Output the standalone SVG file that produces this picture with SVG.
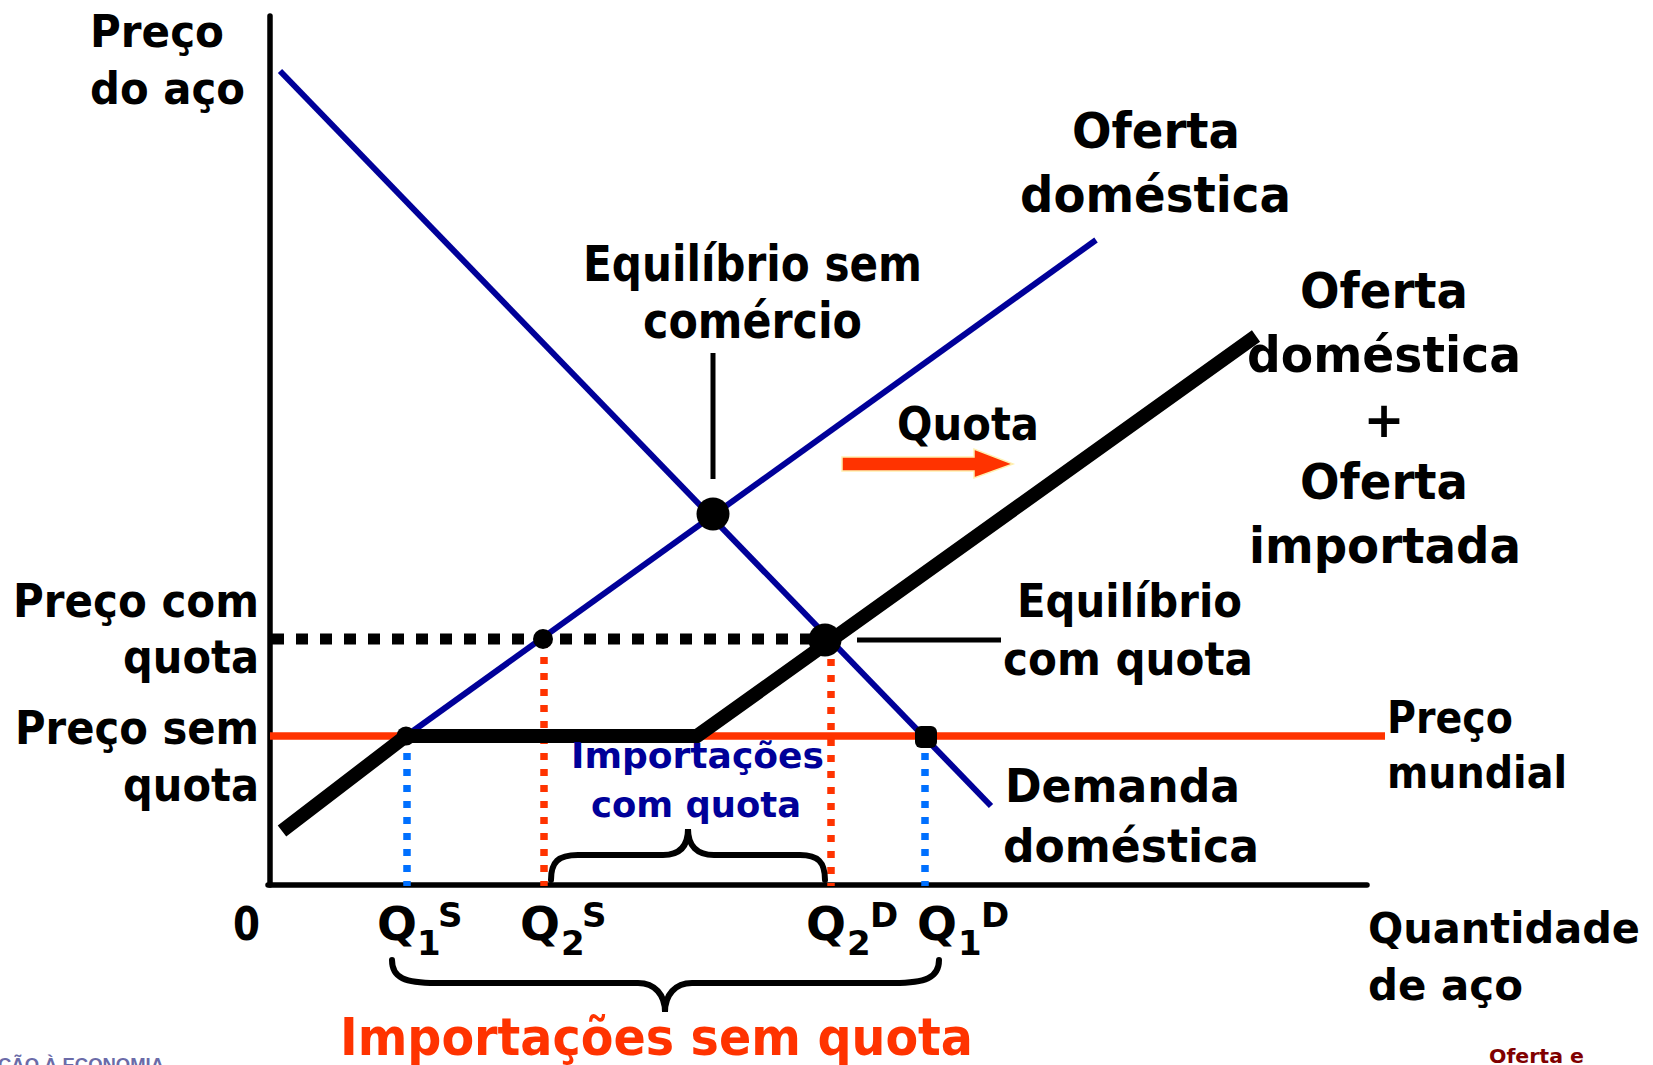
<svg xmlns="http://www.w3.org/2000/svg" width="1653" height="1065" viewBox="0 0 1653 1065">
<defs>
<style>
.t{font-family:"DejaVu Sans","Verdana",sans-serif;font-weight:bold;fill:#000}
.nv{fill:#000099}
.rd{fill:#FF3300}
.ax{stroke:#000;stroke-width:5.5;fill:none}
.blue{stroke:#000099;stroke-width:6;fill:none}
.dotb{stroke:#0070FF;stroke-width:7.5;stroke-dasharray:7 9;fill:none}
.dotr{stroke:#FF3300;stroke-width:7.5;stroke-dasharray:7 9;fill:none}
.brace{stroke:#000;stroke-width:6;fill:none;stroke-linecap:round}
.lead{stroke:#000;stroke-width:5;fill:none}
</style>
</defs>
<rect width="1653" height="1065" fill="#fff"/>

<g id="axes">
<line class="ax" x1="270" y1="16" x2="270" y2="885" stroke-linecap="round"/>
<line class="ax" x1="268" y1="885" x2="1367" y2="885" stroke-linecap="round"/>
</g>

<g id="world-price-line">
<line x1="270" y1="736" x2="1385" y2="736" stroke="#FF3300" stroke-width="7.5"/>
</g>

<g id="guides">
<line x1="272" y1="639" x2="815" y2="639" stroke="#000" stroke-width="11" stroke-dasharray="12 12"/>
<line class="dotb" x1="407" y1="737" x2="407" y2="886"/>
<line class="dotr" x1="544" y1="641" x2="544" y2="886"/>
<line class="dotr" x1="831" y1="643" x2="831" y2="886"/>
<line class="dotb" x1="925" y1="737" x2="925" y2="886"/>
</g>

<g id="demand-curve">
<line class="blue" x1="280" y1="71" x2="991" y2="806"/>
</g>
<g id="domestic-supply-curve">
<line class="blue" x1="406" y1="736" x2="1096" y2="240"/>
</g>
<g id="supply-with-quota">
<polyline points="282,831 406,736 697,736 1256,336" fill="none" stroke="#000" stroke-width="14" stroke-linejoin="miter"/>
</g>

<g id="points">
<circle cx="713" cy="514" r="16.5" fill="#000"/>
<circle cx="825" cy="640" r="16.5" fill="#000"/>
<circle cx="543" cy="639" r="10" fill="#000"/>
<circle cx="406" cy="736" r="9.5" fill="#000"/>
<rect x="915" y="726" width="22" height="22" rx="6" fill="#000"/>
</g>

<g id="connectors">
<line class="lead" x1="713" y1="353" x2="713" y2="479"/>
<line class="lead" x1="857" y1="640" x2="1001" y2="640" stroke-width="5.5"/>
<path class="brace" d="M551,880 C551,862 558,855 578,855 L663,855 C680,855 688,846 688,829 C688,846 697,855 714,855 L800,855 C818,855 825,862 825,880"/>
<path class="brace" d="M392,960 C392,978 405,983 436,983 L638,983 C655,983 665,995 665,1012 C665,995 675,983 692,983 L894,983 C925,983 939,978 939,960"/>
</g>

<g id="quota-arrow">
<polygon points="842,457 974,457 974,449 1013,464 974,478 974,471 842,471" fill="#FF3300" stroke="#FFF0B0" stroke-width="1.5"/>
<text class="t" x="897" y="440" font-size="47" textLength="142" lengthAdjust="spacingAndGlyphs">Quota</text>
</g>

<g id="label-y-axis">
<text class="t" x="90" y="47" font-size="44" textLength="134" lengthAdjust="spacingAndGlyphs">Preço</text>
<text class="t" x="90" y="104" font-size="44" textLength="155" lengthAdjust="spacingAndGlyphs">do aço</text>
</g>

<g id="label-oferta-domestica">
<text class="t" x="1072" y="148" font-size="49" textLength="168" lengthAdjust="spacingAndGlyphs">Oferta</text>
<text class="t" x="1020" y="212" font-size="49" textLength="271" lengthAdjust="spacingAndGlyphs">doméstica</text>
</g>

<g id="label-oferta-total">
<text class="t" x="1300" y="308" font-size="49" textLength="168" lengthAdjust="spacingAndGlyphs">Oferta</text>
<text class="t" x="1247" y="372" font-size="49" textLength="274" lengthAdjust="spacingAndGlyphs">doméstica</text>
<text class="t" x="1384" y="437" font-size="49" text-anchor="middle">+</text>
<text class="t" x="1300" y="499" font-size="49" textLength="168" lengthAdjust="spacingAndGlyphs">Oferta</text>
<text class="t" x="1249" y="563" font-size="49" textLength="272" lengthAdjust="spacingAndGlyphs">importada</text>
</g>

<g id="label-equilibrio-sem-comercio">
<text class="t" x="583" y="281" font-size="49" textLength="339" lengthAdjust="spacingAndGlyphs">Equilíbrio sem</text>
<text class="t" x="643" y="338" font-size="49" textLength="219" lengthAdjust="spacingAndGlyphs">comércio</text>
</g>

<g id="label-preco-com-quota">
<text class="t" x="13" y="617" font-size="46" textLength="246" lengthAdjust="spacingAndGlyphs">Preço com</text>
<text class="t" x="123" y="673" font-size="46" textLength="136" lengthAdjust="spacingAndGlyphs">quota</text>
</g>

<g id="label-preco-sem-quota">
<text class="t" x="15" y="744" font-size="46" textLength="244" lengthAdjust="spacingAndGlyphs">Preço sem</text>
<text class="t" x="123" y="801" font-size="46" textLength="136" lengthAdjust="spacingAndGlyphs">quota</text>
</g>

<g id="label-equilibrio-com-quota">
<text class="t" x="1017" y="617" font-size="46" textLength="225" lengthAdjust="spacingAndGlyphs">Equilíbrio</text>
<text class="t" x="1003" y="675" font-size="46" textLength="250" lengthAdjust="spacingAndGlyphs">com quota</text>
</g>

<g id="label-preco-mundial">
<text class="t" x="1387" y="733" font-size="45" textLength="126" lengthAdjust="spacingAndGlyphs">Preço</text>
<text class="t" x="1387" y="788" font-size="45" textLength="180" lengthAdjust="spacingAndGlyphs">mundial</text>
</g>

<g id="label-demanda">
<text class="t" x="1005" y="802" font-size="47" textLength="235" lengthAdjust="spacingAndGlyphs">Demanda</text>
<text class="t" x="1003" y="862" font-size="47" textLength="256" lengthAdjust="spacingAndGlyphs">doméstica</text>
</g>

<g id="label-importacoes-com-quota">
<text class="t nv" x="571" y="768" font-size="35" textLength="253" lengthAdjust="spacingAndGlyphs">Importações</text>
<text class="t nv" x="591" y="817" font-size="35" textLength="210" lengthAdjust="spacingAndGlyphs">com quota</text>
</g>

<g id="label-x-axis">
<text class="t" x="1368" y="943" font-size="43" textLength="272" lengthAdjust="spacingAndGlyphs">Quantidade</text>
<text class="t" x="1368" y="1000" font-size="43" textLength="155" lengthAdjust="spacingAndGlyphs">de aço</text>
</g>

<g id="tick-labels">
<text class="t" x="233" y="940" font-size="46" textLength="27" lengthAdjust="spacingAndGlyphs">0</text>
<text class="t" x="377" y="940" font-size="46" textLength="40" lengthAdjust="spacingAndGlyphs">Q</text>
<text class="t" x="417" y="955" font-size="34">1</text>
<text class="t" x="438" y="927" font-size="34">S</text>
<text class="t" x="520" y="940" font-size="46" textLength="40" lengthAdjust="spacingAndGlyphs">Q</text>
<text class="t" x="561" y="955" font-size="34">2</text>
<text class="t" x="582" y="927" font-size="34">S</text>
<text class="t" x="806" y="940" font-size="46" textLength="40" lengthAdjust="spacingAndGlyphs">Q</text>
<text class="t" x="847" y="955" font-size="34">2</text>
<text class="t" x="870" y="927" font-size="34">D</text>
<text class="t" x="917" y="940" font-size="46" textLength="40" lengthAdjust="spacingAndGlyphs">Q</text>
<text class="t" x="958" y="955" font-size="34">1</text>
<text class="t" x="981" y="927" font-size="34">D</text>
</g>

<g id="label-importacoes-sem-quota">
<text class="t rd" x="340" y="1055" font-size="52" textLength="633" lengthAdjust="spacingAndGlyphs">Importações sem quota</text>
</g>

<g id="footer">
<text x="-2" y="1071" font-family="Liberation Sans, Arial, sans-serif" font-weight="bold" font-size="18" fill="#6B6BA8" textLength="166" lengthAdjust="spacingAndGlyphs">ÇÃO À ECONOMIA</text>
<text class="t" x="1489" y="1063" font-size="20" style="fill:#800000" textLength="95" lengthAdjust="spacingAndGlyphs">Oferta e</text>
</g>
</svg>
